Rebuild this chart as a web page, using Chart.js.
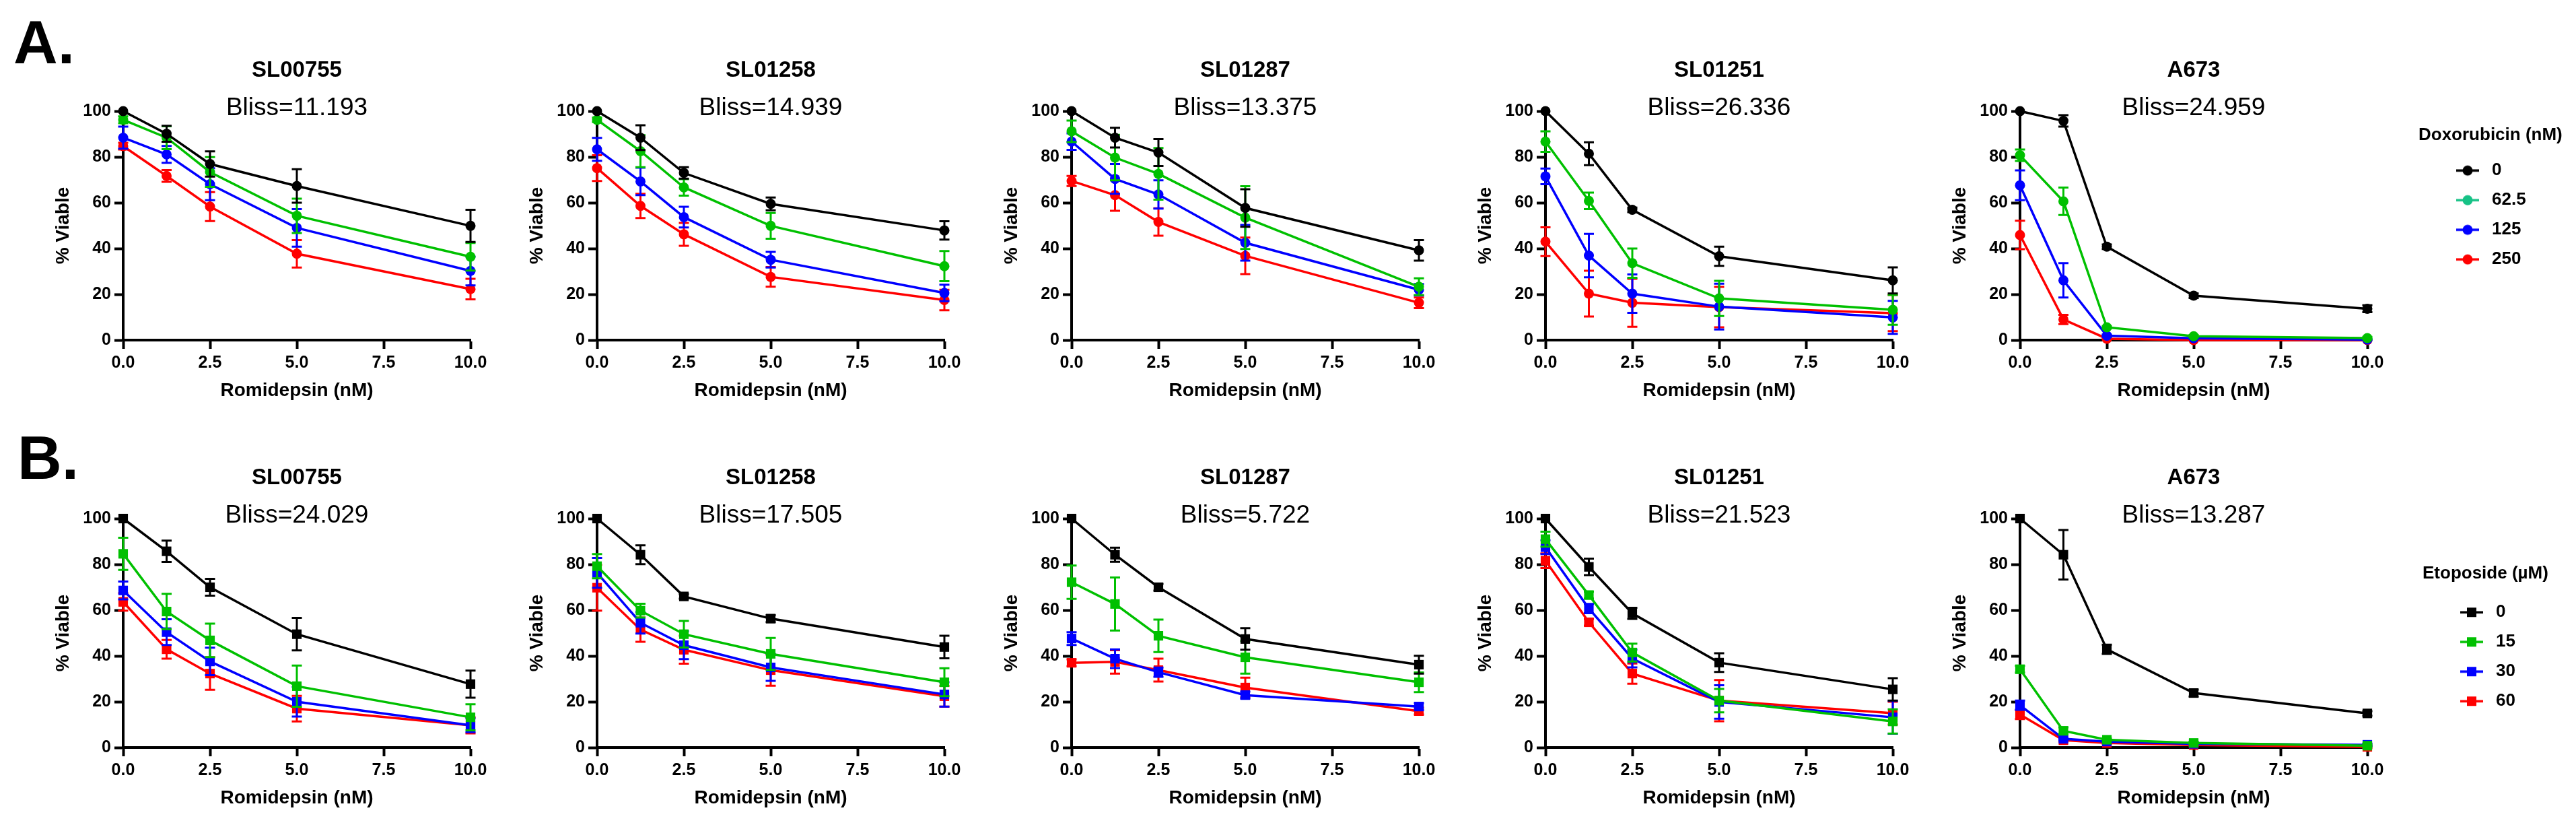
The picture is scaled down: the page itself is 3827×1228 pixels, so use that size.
<!DOCTYPE html>
<html>
<head>
<meta charset="utf-8">
<script src="https://cdn.jsdelivr.net/npm/chart.js@4.4.1/dist/chart.umd.min.js"></script>
<style>
  html, body { margin: 0; padding: 0; background: #fff; }
  body { width: 3827px; height: 1228px; position: relative; overflow: hidden;
         font-family: "Liberation Sans", Arial, sans-serif; }
  canvas { position: absolute; }
  .letter { position: absolute; font-weight: bold; font-size: 91px; line-height: 91px; color: #000; }
</style>
</head>
<body>
<div class="letter" style="left:20px;top:17px">A.</div>
<div class="letter" style="left:26px;top:634px">B.</div>
<script>
const romidepsin = [0, 1.25, 2.5, 5, 10];
const cellLines = ['SL00755', 'SL01258', 'SL01287', 'SL01251', 'A673'];
const blissDox = ['11.193', '14.939', '13.375', '26.336', '24.959'];
const blissEto = ['24.029', '17.505', '5.722', '21.523', '13.287'];
const doxLevels = ['0', '62.5', '125', '250'];
const etoLevels = ['0', '15', '30', '60'];

// row A: one row per Doxorubicin level (0, 62.5, 125, 250 nM), mean % viable
const doxMeanSL00755 = [[100, 90.1, 76.9, 67.3, 49.9], [96.2, 88.4, 73.4, 54.3, 36.4], [88.4, 81.1, 68.1, 49.0, 30.2], [84.7, 71.7, 58.3, 37.7, 22.3]];
const doxSdSL00755   = [[0, 3.5, 5.5, 7.3, 7.0], [1.5, 5.0, 6.5, 7.5, 6.0], [4.8, 3.7, 7.0, 8.2, 6.3], [1.5, 2.6, 6.3, 6.0, 4.5]];
const doxMeanSL01258 = [[100, 88.4, 73.0, 59.5, 47.9], [96.2, 82.5, 66.7, 49.9, 32.3], [83.3, 69.3, 53.7, 35.1, 20.6], [75.1, 58.6, 46.2, 27.6, 17.5]];
const doxSdSL01258   = [[0, 5.4, 2.5, 2.8, 4.0], [1.0, 7.0, 3.6, 5.6, 6.6], [5.0, 6.0, 4.5, 3.4, 3.6], [5.6, 5.3, 5.0, 4.3, 4.5]];
const doxMeanSL01287 = [[100, 88.4, 81.9, 57.7, 39.2], [91.2, 79.7, 72.6, 53.5, 23.3], [86.7, 70.4, 63.6, 42.5, 22.0], [69.5, 63.3, 51.6, 36.8, 16.3]];
const doxSdSL01287   = [[0, 4.3, 5.9, 8.2, 4.5], [4.7, 9.9, 11.3, 13.7, 3.7], [3.6, 6.5, 6.2, 7.8, 2.5], [2.2, 6.8, 6.0, 8.0, 2.3]];
const doxMeanSL01251 = [[100, 81.4, 56.9, 36.6, 26.1], [86.7, 60.8, 33.6, 18.2, 13.2], [71.5, 36.9, 20.3, 14.6, 9.9], [43.0, 20.3, 16.3, 14.4, 11.8]];
const doxSdSL01251   = [[0, 5.0, 1.0, 4.2, 5.7], [4.5, 3.6, 6.4, 7.7, 6.5], [3.4, 9.5, 8.4, 10.0, 7.2], [6.3, 10.0, 10.5, 8.8, 7.9]];
const doxMeanA673    = [[100, 95.7, 40.8, 19.4, 13.7], [80.7, 60.6, 5.6, 1.7, 0.9], [67.6, 26.1, 1.9, 0.8, 0.2], [45.9, 9.0, 0.6, 0, 0]];
const doxSdA673      = [[0, 2.5, 1.0, 1.0, 1.5], [2.5, 6.0, 0.5, 0.5, 0.5], [6.5, 7.5, 0.5, 0.3, 0.2], [6.2, 2.0, 0.3, 0, 0]];

// row B: one row per Etoposide level (0, 15, 30, 60 uM)
const etoMeanSL00755 = [[100, 85.7, 70.0, 49.5, 27.7], [84.6, 59.4, 46.8, 26.8, 13.2], [68.6, 50.4, 37.6, 20.0, 9.7], [63.6, 42.9, 32.3, 17.0, 9.7]];
const etoSdSL00755   = [[0, 4.7, 3.7, 7.1, 5.9], [7.0, 7.7, 7.3, 9.0, 5.7], [3.9, 5.6, 6.0, 6.5, 3.0], [3.8, 4.1, 7.1, 5.6, 3.5]];
const etoMeanSL01258 = [[100, 84.2, 66.0, 56.3, 43.9], [79.2, 59.8, 49.5, 40.9, 28.5], [76.3, 54.5, 44.7, 35.0, 23.2], [69.8, 51.5, 42.7, 33.8, 22.4]];
const etoSdSL01258   = [[0, 4.1, 1.0, 1.5, 4.9], [5.3, 3.0, 5.8, 7.0, 6.1], [6.5, 4.7, 6.1, 5.9, 5.3], [10.0, 5.3, 6.1, 6.8, 4.5]];
const etoMeanSL01287 = [[100, 84.2, 70.0, 47.4, 36.2], [72.2, 62.7, 48.8, 39.4, 28.5], [47.6, 38.8, 32.9, 22.9, 17.9], [37.0, 37.4, 33.8, 26.2, 15.9]];
const etoSdSL01287   = [[0, 3.1, 1.5, 4.7, 3.9], [7.3, 11.6, 7.1, 7.1, 4.3], [2.8, 4.1, 2.0, 1.5, 1.5], [1.5, 5.1, 5.0, 4.3, 1.5]];
const etoMeanSL01251 = [[100, 78.9, 58.6, 37.1, 25.4], [91.0, 66.6, 41.5, 20.5, 11.4], [87.5, 60.7, 38.9, 19.9, 13.2], [81.6, 54.7, 32.3, 20.5, 15.0]];
const etoSdSL01251   = [[0, 3.6, 2.4, 4.1, 4.9], [3.3, 1.5, 3.9, 5.1, 5.3], [3.0, 2.0, 3.9, 7.3, 7.2], [3.2, 1.5, 4.4, 9.0, 5.0]];
const etoMeanA673    = [[100, 84.2, 42.9, 23.8, 14.9], [34.2, 7.3, 3.4, 2.0, 0.8], [18.5, 3.8, 2.6, 1.6, 1.2], [14.4, 3.2, 2.0, 1.1, 0.3]];
const etoSdA673      = [[0, 10.8, 2.0, 1.5, 1.0], [1.5, 1.5, 0.5, 0.5, 0.5], [2.0, 0.5, 0.5, 0.5, 0.5], [2.0, 0.5, 0.5, 0.5, 0.5]];

const doxMeans = [doxMeanSL00755, doxMeanSL01258, doxMeanSL01287, doxMeanSL01251, doxMeanA673];
const doxSds = [doxSdSL00755, doxSdSL01258, doxSdSL01287, doxSdSL01251, doxSdA673];
const etoMeans = [etoMeanSL00755, etoMeanSL01258, etoMeanSL01287, etoMeanSL01251, etoMeanA673];
const etoSds = [etoSdSL00755, etoSdSL01258, etoSdSL01287, etoSdSL01251, etoSdA673];

const lineColors = ['#000000', '#00c000', '#0000ff', '#ff0000'];
const doxLegendColors = ['#000000', '#16c286', '#0000ff', '#ff0000'];

const FONT = '"Liberation Sans", Arial, sans-serif';
Chart.defaults.font.family = FONT;
Chart.defaults.color = '#000';

// mean +/- SD bars, drawn under each dataset's line and markers
const errorBars = {
  id: 'errorBars',
  beforeDatasetDraw(chart, args, opts) {
    const ds = chart.data.datasets[args.index];
    if (!ds.sd) return;
    const { ctx } = chart;
    const x = chart.scales.x, y = chart.scales.y;
    ctx.save();
    ctx.strokeStyle = ds.borderColor;
    ctx.lineWidth = opts.width;
    ds.data.forEach((pt, k) => {
      const e = ds.sd[k];
      if (!e) return;
      const px = x.getPixelForValue(pt.x);
      const top = y.getPixelForValue(pt.y + e);
      const bot = y.getPixelForValue(pt.y - e);
      const h = opts.cap / 2;
      ctx.beginPath();
      ctx.moveTo(px, top); ctx.lineTo(px, bot);
      ctx.moveTo(px - h, top); ctx.lineTo(px + h, top);
      ctx.moveTo(px - h, bot); ctx.lineTo(px + h, bot);
      ctx.stroke();
    });
    ctx.restore();
  }
};

// cell line name, Bliss score and (for the last panel) the legend heading;
// the legend box itself clips, so its heading is written here instead
const panelText = {
  id: 'panelText',
  afterDraw(chart, args, opts) {
    const { ctx, chartArea: a } = chart;
    const cx = (a.left + a.right) / 2;
    ctx.save();
    ctx.fillStyle = '#000';
    ctx.textAlign = 'center';
    ctx.textBaseline = 'middle';
    ctx.font = 'bold 33px ' + FONT;
    ctx.fillText(opts.title, cx, a.top - 60);
    ctx.font = '37px ' + FONT;
    ctx.fillText(opts.bliss, cx, a.top - 4);
    if (opts.legendTitle && chart.legend) {
      ctx.textAlign = 'left';
      ctx.font = 'bold 26px ' + FONT;
      ctx.fillText(opts.legendTitle, chart.legend.left, chart.legend.top + opts.legendTitleDy);
    }
    ctx.restore();
  }
};

function legendIcon(color, marker) {
  const c = document.createElement('canvas');
  c.width = 68; c.height = 22;
  const g = c.getContext('2d');
  g.strokeStyle = color; g.fillStyle = color; g.lineWidth = 3.5;
  g.beginPath(); g.moveTo(33, 11); g.lineTo(67, 11); g.stroke();
  if (marker === 'circle') {
    g.beginPath(); g.arc(50, 11, 7.5, 0, Math.PI * 2); g.fill();
  } else {
    g.fillRect(43, 4, 14, 14);
  }
  return c;
}

const measureCtx = document.createElement('canvas').getContext('2d');
function legendWidth(levels) {
  measureCtx.font = 'bold 26px ' + FONT;
  const textW = Math.max(...levels.map((t) => measureCtx.measureText(t).width));
  // same sum Chart.js uses: point box + half font + text + padding + 10
  return Math.floor(78 + 13 + textW + 18 + 10);
}

const AXIS_W = 120, AXIS_H = 100, PLOT_W = 516, PAD_R = 40, CANVAS_H = 620;

function makePanel(cfg) {
  const withLegend = !!cfg.legend;
  const legendW = withLegend ? legendWidth(cfg.levels) : 0;
  const legendPadR = withLegend ? Math.max(10, cfg.legend.titleW - legendW + 12) : 0;
  const width = AXIS_W + PLOT_W + (withLegend ? cfg.legend.gap + legendW + legendPadR : PAD_R);
  const canvas = document.createElement('canvas');
  canvas.width = width;
  canvas.height = CANVAS_H;
  canvas.style.left = (cfg.x0 - AXIS_W) + 'px';
  canvas.style.top = cfg.top + 'px';
  canvas.style.width = width + 'px';
  canvas.style.height = CANVAS_H + 'px';
  document.body.appendChild(canvas);

  const datasets = cfg.means.map((m, s) => ({
    label: cfg.levels[s],
    data: romidepsin.map((x, k) => ({ x, y: m[k] })),
    sd: cfg.sds[s],
    borderColor: lineColors[s],
    backgroundColor: lineColors[s],
    pointBackgroundColor: lineColors[s],
    pointBorderColor: lineColors[s],
    pointBorderWidth: 0,
    pointStyle: cfg.marker,
    pointRadius: cfg.marker === 'circle' ? 7.5 : 10,
    borderWidth: 3.5,
    tension: 0,
    clip: false
  }));

  const scales = {
    x: {
      type: 'linear', min: 0, max: 10,
      border: { display: true, color: '#000', width: 4 },
      grid: { display: true, drawOnChartArea: false, drawTicks: true, tickLength: 13, tickWidth: 4, tickColor: '#000' },
      ticks: { stepSize: 2.5, autoSkip: false, maxRotation: 0, padding: 6,
               font: { size: 25, weight: 'bold' }, callback: (v) => v.toFixed(1) },
      title: { display: true, text: 'Romidepsin (nM)', font: { size: 28, weight: 'bold' }, padding: { top: 0, bottom: 8 } },
      afterFit: (s) => { s.height = AXIS_H; }
    },
    y: {
      type: 'linear', min: 0, max: 100,
      border: { display: true, color: '#000', width: 4 },
      grid: { display: true, drawOnChartArea: false, drawTicks: true, tickLength: 13, tickWidth: 4, tickColor: '#000' },
      ticks: { stepSize: 20, padding: 5, font: { size: 25, weight: 'bold' } },
      title: { display: true, text: '% Viable', font: { size: 28, weight: 'bold' }, padding: { top: 14, bottom: 0 } },
      afterFit: (s) => { s.width = AXIS_W; }
    }
  };
  if (withLegend) {
    // empty spacer axis: keeps the legend clear of the plot
    scales.gap = {
      type: 'linear', position: 'right', display: true,
      border: { display: false }, grid: { display: false }, ticks: { display: false },
      afterFit: (s) => { s.width = cfg.legend.gap; }
    };
  }

  const legend = withLegend ? {
    display: true, position: 'right', align: 'start', maxWidth: legendW,
    // blank heading only reserves the space; the text is drawn by panelText
    title: { display: true, text: ' ', position: 'start',
             font: { size: 26, weight: 'bold' }, padding: cfg.legend.titlePad },
    labels: {
      usePointStyle: true, pointStyleWidth: 78, padding: 18, color: '#000',
      font: { size: 26, weight: 'bold' },
      generateLabels: (chart) => chart.data.datasets.map((ds, i) => ({
        text: ds.label,
        pointStyle: legendIcon(cfg.legend.colors[i], cfg.marker),
        fillStyle: cfg.legend.colors[i],
        strokeStyle: cfg.legend.colors[i],
        lineWidth: 0,
        hidden: false,
        datasetIndex: i,
        fontColor: '#000'
      }))
    }
  } : { display: false };

  new Chart(canvas, {
    type: 'line',
    data: { datasets },
    plugins: [errorBars, panelText],
    options: {
      responsive: false,
      animation: false,
      events: [],
      layout: { padding: { top: 165, bottom: CANVAS_H - 165 - 340 - AXIS_H, left: 0, right: withLegend ? legendPadR : PAD_R } },
      scales,
      plugins: {
        legend,
        tooltip: { enabled: false },
        errorBars: { width: 3, cap: 15 },
        panelText: {
          title: cfg.title, bliss: cfg.bliss,
          legendTitle: withLegend ? cfg.legend.title : null,
          legendTitleDy: withLegend ? cfg.legend.titlePad.top + 13 : 0
        }
      }
    }
  });
}

const firstX = 183, stepX = 704.4;
cellLines.forEach((name, i) => {
  const last = i === cellLines.length - 1;
  makePanel({
    x0: firstX + i * stepX, top: 0,
    title: name, bliss: 'Bliss=' + blissDox[i],
    means: doxMeans[i], sds: doxSds[i], levels: doxLevels, marker: 'circle',
    legend: last ? { title: 'Doxorubicin (nM)', titleW: 218, colors: doxLegendColors, gap: 76, titlePad: { top: 23, bottom: 3 } } : null
  });
  makePanel({
    x0: firstX + i * stepX, top: 605,
    title: name, bliss: 'Bliss=' + blissEto[i],
    means: etoMeans[i], sds: etoSds[i], levels: etoLevels, marker: 'rect',
    legend: last ? { title: 'Etoposide (µM)', titleW: 197, colors: lineColors, gap: 82, titlePad: { top: 69, bottom: 8 } } : null
  });
});
</script>
</body>
</html>
